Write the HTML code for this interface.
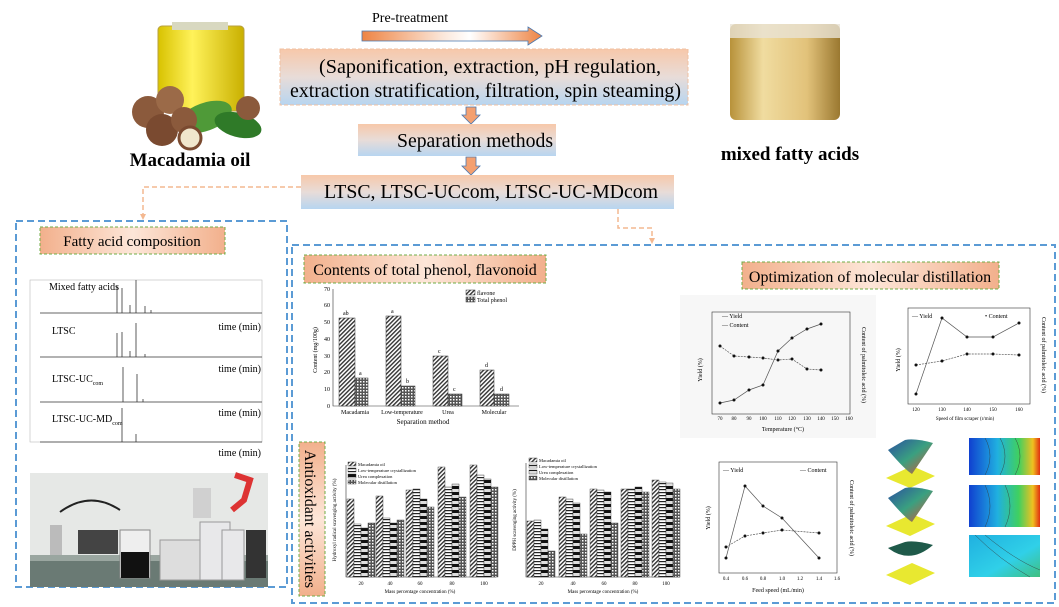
<!DOCTYPE html>
<html><head><meta charset="utf-8"><style>
html,body{margin:0;padding:0;background:#fff;}
svg{display:block;font-family:"Liberation Serif",serif;}
</style></head><body>
<svg width="1059" height="607" viewBox="0 0 1059 607" xmlns="http://www.w3.org/2000/svg">
<defs>
<linearGradient id="box" x1="0" y1="0" x2="0" y2="1"><stop offset="0" stop-color="#f7c8aa"/><stop offset="0.5" stop-color="#e8dcd8"/><stop offset="1" stop-color="#b7d5f0"/></linearGradient>
<linearGradient id="arr" x1="0" y1="0" x2="1" y2="0"><stop offset="0" stop-color="#ee8444"/><stop offset="0.45" stop-color="#fbe7da"/><stop offset="0.6" stop-color="#fff"/><stop offset="1" stop-color="#ee8444"/></linearGradient>
<linearGradient id="lab" x1="0" y1="0" x2="1" y2="0"><stop offset="0" stop-color="#f2b08c"/><stop offset="0.5" stop-color="#fde6d8"/><stop offset="1" stop-color="#f2b08c"/></linearGradient>
<linearGradient id="labv" x1="0" y1="0" x2="0" y2="1"><stop offset="0" stop-color="#f2b08c"/><stop offset="0.5" stop-color="#fde6d8"/><stop offset="1" stop-color="#f2b08c"/></linearGradient>
<linearGradient id="oil" x1="0" y1="0" x2="1" y2="0"><stop offset="0" stop-color="#d8c200"/><stop offset="0.4" stop-color="#fff25a"/><stop offset="1" stop-color="#c9b000"/></linearGradient>
<linearGradient id="jar" x1="0" y1="0" x2="1" y2="0"><stop offset="0" stop-color="#b8923a"/><stop offset="0.3" stop-color="#f0dca0"/><stop offset="0.7" stop-color="#e2c27a"/><stop offset="1" stop-color="#9a7830"/></linearGradient>
<linearGradient id="surf" x1="0" y1="0" x2="1" y2="1"><stop offset="0" stop-color="#2a4fa0"/><stop offset="0.5" stop-color="#3aa080"/><stop offset="1" stop-color="#e05030"/></linearGradient>
<linearGradient id="cont" x1="0" y1="0" x2="1" y2="0"><stop offset="0" stop-color="#1040d0"/><stop offset="0.4" stop-color="#20b0e0"/><stop offset="0.7" stop-color="#40d060"/><stop offset="0.9" stop-color="#f0c020"/><stop offset="1" stop-color="#e03010"/></linearGradient>
<linearGradient id="cont2" x1="0" y1="0" x2="1" y2="1"><stop offset="0" stop-color="#20b0e0"/><stop offset="0.6" stop-color="#30d0e8"/><stop offset="1" stop-color="#40c080"/></linearGradient>
<pattern id="p1" width="3" height="3" patternUnits="userSpaceOnUse" patternTransform="rotate(45)"><rect width="3" height="3" fill="#fff"/><rect width="1.4" height="3" fill="#333"/></pattern>
<pattern id="p2" width="3" height="3" patternUnits="userSpaceOnUse"><rect width="3" height="3" fill="#555"/><rect width="1.5" height="1.5" fill="#fff"/></pattern>
<pattern id="p3" width="3" height="3" patternUnits="userSpaceOnUse"><rect width="3" height="3" fill="#fff"/><rect width="3" height="1.2" fill="#222"/></pattern>
<pattern id="p4" width="4" height="6" patternUnits="userSpaceOnUse"><rect width="4" height="6" fill="#ddd"/><rect width="4" height="3" fill="#111"/></pattern>
</defs>

<text x="372" y="22" font-size="14">Pre-treatment</text>
<path d="M362 31 H528 V27 L542 36 L528 45 V41 H362 Z" fill="url(#arr)" stroke="#4a78b0" stroke-width="0.8"/>

<rect x="280" y="49" width="408" height="56" fill="url(#box)" stroke="#f0c0a0" stroke-dasharray="4 2"/>
<text x="319" y="73" font-size="20" textLength="342" lengthAdjust="spacingAndGlyphs">(Saponification, extraction, pH regulation,</text>
<text x="290" y="97" font-size="20" textLength="391" lengthAdjust="spacingAndGlyphs">extraction stratification, filtration, spin steaming)</text>
<path d="M466 107 H476 V115 H480 L471 124 L462 115 H466 Z" fill="#f4a070" stroke="#4a78b0" stroke-width="0.8"/>
<rect x="358" y="124" width="198" height="32" fill="url(#box)"/>
<text x="397" y="147" font-size="20" textLength="156" lengthAdjust="spacingAndGlyphs">Separation methods</text>
<path d="M466 157 H476 V166 H480 L471 175 L462 166 H466 Z" fill="#f4a070" stroke="#4a78b0" stroke-width="0.8"/>
<rect x="301" y="175" width="373" height="34" fill="url(#box)"/>
<text x="324" y="198" font-size="20" textLength="334" lengthAdjust="spacingAndGlyphs">LTSC, LTSC-UCcom, LTSC-UC-MDcom</text>

<rect x="158" y="26" width="86" height="85" rx="4" fill="url(#oil)" stroke="#b8a040"/>
<rect x="172" y="22" width="56" height="8" fill="#d8d8c0"/>
<ellipse cx="205" cy="117" rx="28" ry="14" fill="#4f9a38" transform="rotate(-20 205 117)"/>
<ellipse cx="238" cy="125" rx="24" ry="12" fill="#2f7a28" transform="rotate(15 238 125)"/>
<circle cx="148" cy="112" r="16" fill="#8b5a3c"/>
<circle cx="170" cy="100" r="14" fill="#9b6a48"/>
<circle cx="162" cy="130" r="16" fill="#7a4a30"/>
<circle cx="184" cy="120" r="13" fill="#8b5a3c"/>
<circle cx="190" cy="138" r="11" fill="#f0e6cc" stroke="#7a4a30" stroke-width="3"/>
<circle cx="248" cy="108" r="12" fill="#8b5a3c"/>
<text x="190" y="166" font-size="19" font-weight="bold" text-anchor="middle">Macadamia oil</text>

<rect x="730" y="24" width="110" height="96" rx="6" fill="url(#jar)"/>
<rect x="730" y="24" width="110" height="14" fill="#e8e2d4" opacity="0.8"/>
<text x="790" y="160" font-size="19" font-weight="bold" text-anchor="middle">mixed fatty acids</text>

<path d="M301 187 H143 V218" fill="none" stroke="#f4b890" stroke-width="1.5" stroke-dasharray="5 3"/>
<path d="M140 214 L143 220 L146 214" fill="#f4b890"/>
<path d="M618 209 V228 H652 V241" fill="none" stroke="#f4b890" stroke-width="1.5" stroke-dasharray="5 3"/>
<path d="M649 238 L652 244 L655 238" fill="#f4b890"/>

<rect x="16" y="221" width="271" height="366" fill="none" stroke="#5b9bd5" stroke-width="2" stroke-dasharray="7 4"/>
<rect x="40" y="227" width="185" height="27" fill="url(#lab)" stroke="#70ad47" stroke-dasharray="3 2"/>
<text x="132" y="246" font-size="15" text-anchor="middle">Fatty acid composition</text>
<rect x="30" y="280" width="232" height="162" fill="none" stroke="#bbb" stroke-width="0.6"/>
<g stroke="#333" stroke-width="0.8">
<line x1="40" y1="313" x2="262" y2="313"/><line x1="40" y1="357" x2="262" y2="357"/><line x1="40" y1="402" x2="262" y2="402"/><line x1="40" y1="442" x2="262" y2="442"/>
<line x1="117" y1="313" x2="117" y2="286"/><line x1="122" y1="313" x2="122" y2="288"/><line x1="130" y1="313" x2="130" y2="305"/><line x1="136" y1="313" x2="136" y2="280"/><line x1="145" y1="313" x2="145" y2="306"/><line x1="151" y1="313" x2="151" y2="310"/>
<line x1="117" y1="357" x2="117" y2="333"/><line x1="122" y1="357" x2="122" y2="332"/><line x1="130" y1="357" x2="130" y2="351"/><line x1="136" y1="357" x2="136" y2="323"/><line x1="145" y1="357" x2="145" y2="354"/>
<line x1="123" y1="402" x2="123" y2="367"/><line x1="137" y1="402" x2="137" y2="374"/><line x1="143" y1="402" x2="143" y2="399"/>
<line x1="122" y1="442" x2="122" y2="408"/><line x1="136" y1="442" x2="136" y2="434"/>
</g>
<text x="49" y="290" font-size="10">Mixed fatty acids</text>
<text x="52" y="334" font-size="10">LTSC</text>
<text x="52" y="382" font-size="10">LTSC-UC<tspan font-size="6" dy="3">com</tspan></text>
<text x="52" y="422" font-size="10">LTSC-UC-MD<tspan font-size="6" dy="3">com</tspan></text>
<g font-size="10" text-anchor="end"><text x="261" y="330">time (min)</text><text x="261" y="372">time (min)</text><text x="261" y="416">time (min)</text><text x="261" y="456">time (min)</text></g>
<rect x="30" y="473" width="238" height="114" fill="#e6e8e6"/>
<rect x="30" y="558" width="238" height="29" fill="#6a7a74"/>
<rect x="30" y="555" width="238" height="6" fill="#9aa6a0"/>
<rect x="78" y="530" width="40" height="24" fill="#444"/>
<rect x="50" y="525" width="12" height="30" fill="#bbb"/>
<rect x="120" y="530" width="30" height="48" fill="#eee" stroke="#888"/>
<rect x="121" y="552" width="28" height="26" fill="#111"/>
<rect x="160" y="540" width="40" height="40" fill="#ddd" stroke="#999"/>
<rect x="200" y="522" width="30" height="58" fill="#e8e8ea" stroke="#999"/>
<rect x="222" y="530" width="22" height="50" fill="#e8e8ea" stroke="#999"/>
<rect x="246" y="530" width="20" height="48" fill="#333"/>
<rect x="193" y="488" width="18" height="30" fill="#d0d0d0"/>
<path d="M235 475 L250 480 L244 500 L232 510" stroke="#d33" stroke-width="6" fill="none"/>
<path d="M60 512 Q90 490 120 510" stroke="#222" stroke-width="2" fill="none"/>

<rect x="292" y="245" width="763" height="358" fill="none" stroke="#5b9bd5" stroke-width="2" stroke-dasharray="7 4"/>
<rect x="304" y="255" width="242" height="28" fill="url(#lab)" stroke="#70ad47" stroke-dasharray="3 2"/>
<text x="425" y="275" font-size="16" text-anchor="middle">Contents of total phenol, flavonoid</text>
<rect x="742" y="262" width="257" height="27" fill="url(#lab)" stroke="#70ad47" stroke-dasharray="3 2"/>
<text x="870" y="282" font-size="16" text-anchor="middle">Optimization of molecular distillation</text>
<rect x="299" y="442" width="26" height="154" fill="url(#labv)" stroke="#70ad47" stroke-dasharray="3 2"/>
<text x="0" y="0" font-size="16" transform="translate(305 519) rotate(90)" text-anchor="middle">Antioxidant activities</text>

<g stroke="#333" stroke-width="0.6" fill="none"><path d="M333 289 V406 H519"/></g>
<g font-size="6" text-anchor="end"><text x="330" y="408">0</text><text x="330" y="391">10</text><text x="330" y="374">20</text><text x="330" y="358">30</text><text x="330" y="341">40</text><text x="330" y="324">50</text><text x="330" y="307">60</text><text x="330" y="291">70</text></g>
<text font-size="6" transform="translate(317 350) rotate(-90)" text-anchor="middle">Content (mg/100g)</text>
<g stroke="#333" stroke-width="0.5">
<rect x="339" y="318" width="16" height="88" fill="url(#p1)"/><rect x="355" y="378" width="13" height="28" fill="url(#p2)"/>
<rect x="386" y="316" width="15" height="90" fill="url(#p1)"/><rect x="401" y="386" width="14" height="20" fill="url(#p2)"/>
<rect x="433" y="356" width="15" height="50" fill="url(#p1)"/><rect x="448" y="394" width="14" height="12" fill="url(#p2)"/>
<rect x="480" y="370" width="14" height="36" fill="url(#p1)"/><rect x="494" y="394" width="15" height="12" fill="url(#p2)"/>
<rect x="466" y="290" width="9" height="5" fill="url(#p1)"/><rect x="466" y="297" width="9" height="5" fill="url(#p2)"/>
</g>
<g font-size="6"><text x="477" y="295">flavone</text><text x="477" y="302">Total phenol</text>
<text x="343" y="315">ab</text><text x="359" y="375">a</text><text x="391" y="313">a</text><text x="406" y="383">b</text><text x="438" y="353">c</text><text x="453" y="391">c</text><text x="485" y="367">d</text><text x="500" y="391">d</text></g>
<g font-size="6" text-anchor="middle"><text x="355" y="414">Macadamia</text><text x="402" y="414">Low-temperature</text><text x="448" y="414">Urea</text><text x="494" y="414">Molecular</text></g>
<text x="423" y="424" font-size="7" text-anchor="middle">Separation method</text>

<rect x="680" y="295" width="196" height="143" fill="#f7f7f7"/>
<rect x="712" y="312" width="138" height="102" fill="none" stroke="#333" stroke-width="0.6"/>
<polyline points="720,403 734,400 749,390 763,385 778,351 792,338 807,329 821,324" fill="none" stroke="#555" stroke-width="0.7"/>
<polyline points="720,346 734,356 749,357 763,358 778,360 792,359 807,369 821,370" fill="none" stroke="#555" stroke-width="0.7" stroke-dasharray="2 1"/>
<g fill="#111"><circle cx="720" cy="403" r="1.5"/><circle cx="734" cy="400" r="1.5"/><circle cx="749" cy="390" r="1.5"/><circle cx="763" cy="385" r="1.5"/><circle cx="778" cy="351" r="1.5"/><circle cx="792" cy="338" r="1.5"/><circle cx="807" cy="329" r="1.5"/><circle cx="821" cy="324" r="1.5"/>
<circle cx="720" cy="346" r="1.5"/><circle cx="734" cy="356" r="1.5"/><circle cx="749" cy="357" r="1.5"/><circle cx="763" cy="358" r="1.5"/><circle cx="778" cy="360" r="1.5"/><circle cx="792" cy="359" r="1.5"/><circle cx="807" cy="369" r="1.5"/><circle cx="821" cy="370" r="1.5"/></g>
<g font-size="6"><text x="722" y="318">— Yield</text><text x="722" y="327">— Content</text></g>
<g font-size="5" text-anchor="middle"><text x="720" y="420">70</text><text x="734" y="420">80</text><text x="749" y="420">90</text><text x="763" y="420">100</text><text x="778" y="420">110</text><text x="792" y="420">120</text><text x="807" y="420">130</text><text x="821" y="420">140</text><text x="835" y="420">150</text><text x="849" y="420">160</text></g>
<text x="783" y="431" font-size="6" text-anchor="middle">Temperature (°C)</text>
<text font-size="6" transform="translate(702 370) rotate(-90)" text-anchor="middle">Yield (%)</text>
<text font-size="6" transform="translate(862 365) rotate(90)" text-anchor="middle">Content of palmitoleic acid (%)</text>

<rect x="908" y="308" width="122" height="96" fill="none" stroke="#333" stroke-width="0.6"/>
<polyline points="916,394 942,318 967,337 993,337 1019,323" fill="none" stroke="#555" stroke-width="0.7"/>
<polyline points="916,365 942,361 967,354 993,354 1019,355" fill="none" stroke="#555" stroke-width="0.7" stroke-dasharray="2 1"/>
<g fill="#111"><circle cx="916" cy="394" r="1.5"/><circle cx="942" cy="318" r="1.5"/><circle cx="967" cy="337" r="1.5"/><circle cx="993" cy="337" r="1.5"/><circle cx="1019" cy="323" r="1.5"/><circle cx="916" cy="365" r="1.5"/><circle cx="942" cy="361" r="1.5"/><circle cx="967" cy="354" r="1.5"/><circle cx="993" cy="354" r="1.5"/><circle cx="1019" cy="355" r="1.5"/></g>
<g font-size="6"><text x="912" y="318">— Yield</text><text x="985" y="318">• Content</text></g>
<g font-size="5" text-anchor="middle"><text x="916" y="411">120</text><text x="942" y="411">130</text><text x="967" y="411">140</text><text x="993" y="411">150</text><text x="1019" y="411">160</text></g>
<text x="965" y="420" font-size="5" text-anchor="middle">Speed of film scraper (r/min)</text>
<text font-size="6" transform="translate(900 360) rotate(-90)" text-anchor="middle">Yield (%)</text>
<text font-size="6" transform="translate(1042 355) rotate(90)" text-anchor="middle">Content of palmitoleic acid (%)</text>

<rect x="719" y="462" width="118" height="111" fill="none" stroke="#333" stroke-width="0.6"/>
<polyline points="726,558 745,486 763,506 782,518 819,558" fill="none" stroke="#555" stroke-width="0.7"/>
<polyline points="726,547 745,536 763,533 782,530 819,533" fill="none" stroke="#555" stroke-width="0.7" stroke-dasharray="2 1"/>
<g fill="#111"><circle cx="726" cy="558" r="1.5"/><circle cx="745" cy="486" r="1.5"/><circle cx="763" cy="506" r="1.5"/><circle cx="782" cy="518" r="1.5"/><circle cx="819" cy="558" r="1.5"/><circle cx="726" cy="547" r="1.5"/><circle cx="745" cy="536" r="1.5"/><circle cx="763" cy="533" r="1.5"/><circle cx="782" cy="530" r="1.5"/><circle cx="819" cy="533" r="1.5"/></g>
<g font-size="6"><text x="723" y="472">— Yield</text><text x="800" y="472">— Content</text></g>
<g font-size="5" text-anchor="middle"><text x="726" y="580">0.4</text><text x="745" y="580">0.6</text><text x="763" y="580">0.8</text><text x="782" y="580">1.0</text><text x="800" y="580">1.2</text><text x="819" y="580">1.4</text><text x="837" y="580">1.6</text></g>
<text x="778" y="592" font-size="6" text-anchor="middle">Feed speed (mL/min)</text>
<text font-size="6" transform="translate(710 518) rotate(-90)" text-anchor="middle">Yield (%)</text>
<text font-size="6" transform="translate(850 518) rotate(90)" text-anchor="middle">Content of palmitoleic acid (%)</text>

<path d="M886 478 L910 488 L935 476 L912 466 Z" fill="#e8e830"/>
<path d="M888 450 Q905 470 912 474 Q925 455 933 443 Q915 438 905 440 Z" fill="url(#surf)"/>
<path d="M886 526 L910 536 L935 524 L912 514 Z" fill="#e8e830"/>
<path d="M888 498 Q905 518 912 522 Q925 503 933 491 Q915 486 905 488 Z" fill="url(#surf)"/>
<path d="M886 575 L910 585 L935 573 L912 563 Z" fill="#e8e830"/>
<path d="M888 548 Q910 565 933 545 Q915 540 905 542 Z" fill="#1f5a4a"/>
<rect x="969" y="438" width="71" height="37" fill="url(#cont)"/>
<rect x="969" y="485" width="71" height="42" fill="url(#cont)"/>
<rect x="969" y="535" width="71" height="42" fill="url(#cont2)"/>
<g fill="none" stroke="#333" stroke-width="0.4"><path d="M985 438 Q995 456 985 475"/><path d="M1000 438 Q1010 456 1000 475"/><path d="M1015 438 Q1025 456 1015 475"/><path d="M985 485 Q995 506 985 527"/><path d="M1005 485 Q1015 506 1005 527"/><path d="M975 535 Q1000 560 1030 577"/><path d="M985 535 Q1015 560 1040 570"/></g>

<path d="M346 465 V577 H496" fill="none" stroke="#333" stroke-width="0.6"/>
<line x1="346" y1="550" x2="496" y2="550" stroke="#fff" stroke-width="3"/>
<g stroke="#333" stroke-width="0.4">
<rect x="347" y="499" width="7" height="78" fill="url(#p1)"/><rect x="354" y="524" width="7" height="53" fill="url(#p3)"/><rect x="361" y="528" width="7" height="49" fill="url(#p4)"/><rect x="368" y="523" width="7" height="54" fill="url(#p2)"/>
<rect x="376" y="496" width="7" height="81" fill="url(#p1)"/><rect x="383" y="518" width="7" height="59" fill="url(#p3)"/><rect x="390" y="523" width="7" height="54" fill="url(#p4)"/><rect x="397" y="520" width="7" height="57" fill="url(#p2)"/>
<rect x="406" y="490" width="7" height="87" fill="url(#p1)"/><rect x="413" y="489" width="7" height="88" fill="url(#p3)"/><rect x="420" y="499" width="7" height="78" fill="url(#p4)"/><rect x="427" y="507" width="7" height="70" fill="url(#p2)"/>
<rect x="438" y="467" width="7" height="110" fill="url(#p1)"/><rect x="445" y="487" width="7" height="90" fill="url(#p3)"/><rect x="452" y="484" width="7" height="93" fill="url(#p4)"/><rect x="459" y="497" width="7" height="80" fill="url(#p2)"/>
<rect x="470" y="465" width="7" height="112" fill="url(#p1)"/><rect x="477" y="475" width="7" height="102" fill="url(#p3)"/><rect x="484" y="479" width="7" height="98" fill="url(#p4)"/><rect x="491" y="487" width="7" height="90" fill="url(#p2)"/>
<rect x="348" y="462" width="8" height="4" fill="url(#p1)"/><rect x="348" y="468" width="8" height="4" fill="url(#p3)"/><rect x="348" y="474" width="8" height="4" fill="url(#p4)"/><rect x="348" y="480" width="8" height="4" fill="url(#p2)"/>
</g>
<g font-size="4.5"><text x="358" y="466">Macadamia oil</text><text x="358" y="472">Low-temperature crystallization</text><text x="358" y="478">Urea complexation</text><text x="358" y="484">Molecular distillation</text></g>
<g font-size="5" text-anchor="middle"><text x="361" y="585">20</text><text x="390" y="585">40</text><text x="420" y="585">60</text><text x="452" y="585">80</text><text x="484" y="585">100</text></g>
<text x="420" y="593" font-size="5" text-anchor="middle">Mass percentage concentration (%)</text>
<text font-size="5" transform="translate(336 520) rotate(-90)" text-anchor="middle">Hydroxyl radical scavenging activity (%)</text>

<path d="M526 463 V577 H680" fill="none" stroke="#333" stroke-width="0.6"/>
<g stroke="#333" stroke-width="0.4">
<rect x="527" y="521" width="7" height="56" fill="url(#p1)"/><rect x="534" y="520" width="7" height="57" fill="url(#p3)"/><rect x="541" y="529" width="7" height="48" fill="url(#p4)"/><rect x="548" y="551" width="7" height="26" fill="url(#p2)"/>
<rect x="559" y="497" width="7" height="80" fill="url(#p1)"/><rect x="566" y="499" width="7" height="78" fill="url(#p3)"/><rect x="573" y="503" width="7" height="74" fill="url(#p4)"/><rect x="580" y="534" width="7" height="43" fill="url(#p2)"/>
<rect x="590" y="489" width="7" height="88" fill="url(#p1)"/><rect x="597" y="490" width="7" height="87" fill="url(#p3)"/><rect x="604" y="492" width="7" height="85" fill="url(#p4)"/><rect x="611" y="523" width="7" height="54" fill="url(#p2)"/>
<rect x="621" y="489" width="7" height="88" fill="url(#p1)"/><rect x="628" y="489" width="7" height="88" fill="url(#p3)"/><rect x="635" y="487" width="7" height="90" fill="url(#p4)"/><rect x="642" y="492" width="7" height="85" fill="url(#p2)"/>
<rect x="652" y="480" width="7" height="97" fill="url(#p1)"/><rect x="659" y="482" width="7" height="95" fill="url(#p3)"/><rect x="666" y="483" width="7" height="94" fill="url(#p4)"/><rect x="673" y="489" width="7" height="88" fill="url(#p2)"/>
<rect x="529" y="458" width="8" height="4" fill="url(#p1)"/><rect x="529" y="464" width="8" height="4" fill="url(#p3)"/><rect x="529" y="470" width="8" height="4" fill="url(#p4)"/><rect x="529" y="476" width="8" height="4" fill="url(#p2)"/>
</g>
<g font-size="4.5"><text x="539" y="462">Macadamia oil</text><text x="539" y="468">Low-temperature crystallization</text><text x="539" y="474">Urea complexation</text><text x="539" y="480">Molecular distillation</text></g>
<g font-size="5" text-anchor="middle"><text x="541" y="585">20</text><text x="573" y="585">40</text><text x="604" y="585">60</text><text x="635" y="585">80</text><text x="666" y="585">100</text></g>
<text x="603" y="593" font-size="5" text-anchor="middle">Mass percentage concentration (%)</text>
<text font-size="5" transform="translate(516 520) rotate(-90)" text-anchor="middle">DPPH scavenging activity (%)</text>
</svg>
</body></html>
